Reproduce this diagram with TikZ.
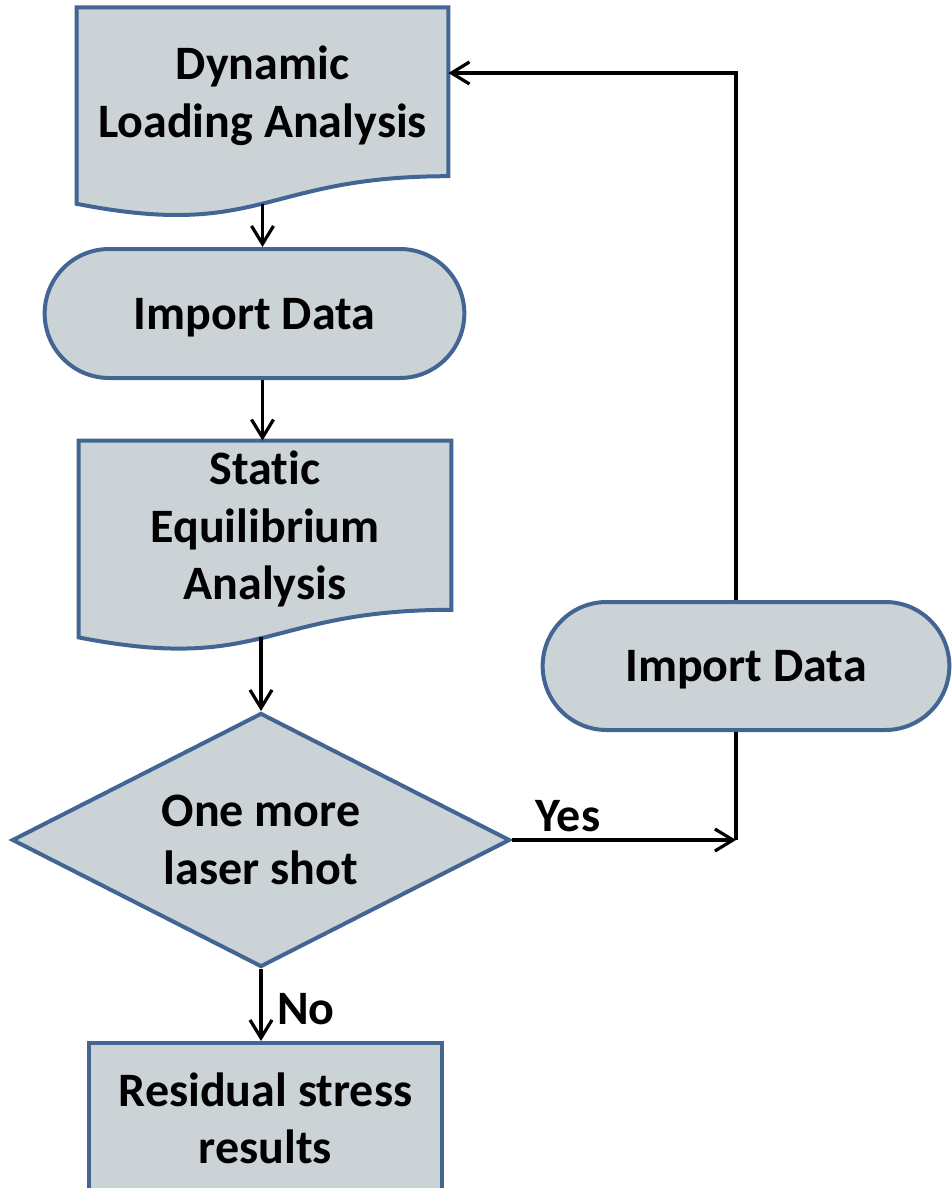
\documentclass[tikz,border=0pt]{standalone}
\usepackage{fontspec}
\setmainfont{Carlito}[Ligatures=NoCommon]
\usetikzlibrary{arrows.meta,shapes.geometric,shapes.misc,calc,backgrounds}
\definecolor{boxfill}{RGB}{203,211,215}
\definecolor{boxline}{RGB}{66,101,148}
\tikzset{
    txt/.style={font=\fontsize{24}{28.8}\selectfont\bfseries, align=center, text depth=0pt},
    docline/.style={draw=boxline, fill=boxfill, line width=2pt},
    doc/.style={txt, inner sep=0pt},
    term/.style={txt, rounded rectangle, draw=boxline, fill=boxfill, line width=2pt},
    dec/.style={txt, diamond, aspect=2, inner sep=0pt, draw=boxline, fill=boxfill, line width=2pt},
    proc/.style={txt, rectangle, draw=boxline, fill=boxfill, line width=2pt},
    link/.style={line width=1.6pt}
}
\newcommand{\docoutline}[1]{%
    \begin{scope}[on background layer]
        \draw[docline] (#1.north west) -- (#1.north east) -- (#1.south east)
            .. controls (#1.south) and ($(#1.south)+(0,-32pt)$) .. ($(#1.south west)+(0,-13.8pt)$) -- cycle;
    \end{scope}
    \coordinate (#1-b) at ($(#1.south)+(0,-13.7pt)$);}
\begin{document}
\begin{tikzpicture}[x=0.5pt, y=-0.5pt, >={Straight Barb[length=9pt,width=11pt]}]
    \useasboundingbox (0,0) rectangle (952,1188);
    \node[doc, minimum width=185.5pt, minimum height=84pt] (dyn) at (262.5,91.8) {Dynamic\\Loading Analysis};
    \docoutline{dyn}
    \node[term, minimum width=216.5pt, minimum height=64.5pt] (imp1) at (254.5,313.5) {Import Data};
    \node[doc, minimum width=186pt, minimum height=84.2pt] (sta) at (265,525.2) {Static\\Equilibrium\\Analysis};
    \docoutline{sta}
    \node[dec, minimum width=249pt, minimum height=127pt] (dia) at (261,840) {One more\\laser shot};
    \node[term, minimum width=210pt, minimum height=64pt] (imp2) at (746,666) {Import Data};
    \node[proc, minimum width=176.5pt, minimum height=75pt] (res) at (265.5,1118) {Residual stress\\results};
    \coordinate (join) at (736,840);
    \coordinate (back) at (736,73);
    \draw[link, ->] (dyn-b) -- (dyn-b |- imp1.north);
    \draw[link, ->] (imp1.south -| dyn-b) -- (dyn-b |- sta.north);
    \draw[link, ->] (sta-b -| dia.north) -- (dia.north);
    \draw[link, ->] (dia.east) -- (join) node[txt, pos=.25, above] {Yes};
    \draw[link] (imp2.south -| join) -- (join);
    \draw[link, ->] (imp2.north -| join) -- (back) -- (back -| dyn.east);
    \draw[link, ->] (dia.south) -- (dia.south |- res.north) node[txt, midway, right, xshift=4pt, yshift=-2pt] {No};
\end{tikzpicture}
\end{document}
